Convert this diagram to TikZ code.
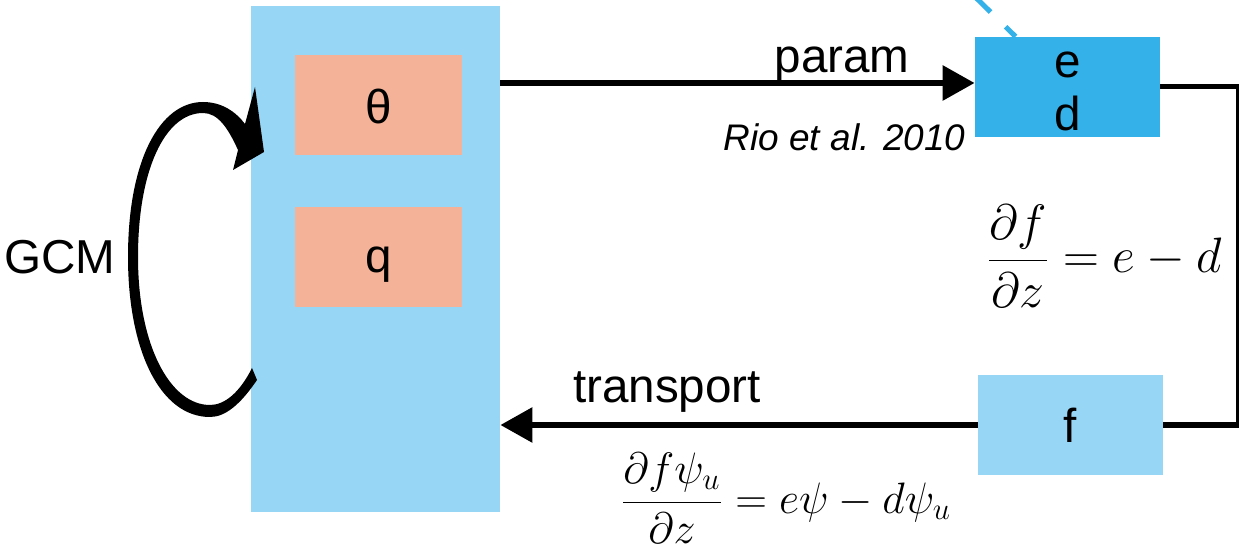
\RequirePackage{fix-cm}
\documentclass[tikz,border=0pt]{standalone}
\usepackage{fontspec}
\setmainfont{Liberation Sans}
\usetikzlibrary{arrows.meta}
\definecolor{gcmblue}{RGB}{152,214,245}
\definecolor{edblue}{RGB}{53,177,233}
\definecolor{varsalmon}{RGB}{244,178,152}
\newcommand{\lowtxt}[2]{\smash{\raisebox{#1}{\makebox[0pt]{#2}}}}
\begin{document}
\begin{tikzpicture}[x=0.5pt,y=-0.5pt,>={Triangle[length=16pt,width=17pt]},
  box/.style={inner sep=0pt,minimum width=92.5pt,minimum height=50pt,font=\fontsize{23.8}{26.5}\selectfont},
  varbox/.style={box,fill=varsalmon,minimum width=83.5pt},
  lbl/.style={inner sep=0pt,anchor=base,font=\fontsize{23.8}{26.5}\selectfont},
  eqn/.style={inner sep=0pt,anchor=base,font=\fontsize{24.88}{29}\selectfont}]
\useasboundingbox (0,0) rectangle (1240,549);
% model state
\node[box,fill=gcmblue,minimum width=124.5pt,minimum height=253pt] (gcm) at (375.5,259) {};
\node[varbox] (theta) at (378.5,105) {\lowtxt{-9.5pt}{θ}};
\node[varbox] (q) at (378.5,257) {\lowtxt{-8pt}{q}};
% scheme boxes
\node[box,fill=edblue] (ed) at (1067.5,87) {\lowtxt{4.5pt}{e}\lowtxt{-22pt}{d}};
\node[box,fill=gcmblue] (f) at (1070.5,425) {\lowtxt{-9pt}{f}};
\coordinate (dsrc) at (965,-13);
\draw[edblue,line width=2.5pt,dash pattern={on 7pt off 10.5pt on 30pt off 10pt}] ([xshift=20.5pt]ed.north west) -- (dsrc);
% arrows
\coordinate (pa) at ([yshift=2pt]ed.west);
\draw[->,line width=3pt] (gcm.east |- pa) -- (pa);
\draw[->,line width=3pt] (f.west) -- (f.west -| gcm.east);
\coordinate (rt) at (1237,87);
\coordinate (rb) at (1237,425);
\draw[line width=1.5pt] (rt) -- (rb);
\draw[line width=2.5pt] (ed.east) -- ([xshift=0.75pt]rt);
\draw[line width=2.5pt] (f.east) -- ([xshift=0.75pt]rb);
% GCM loop
\coordinate (lpA) at (257,380);
\coordinate (lpB) at (264,152);
\fill (lpA) .. controls (240,405) and (225,417) .. (210,417) .. controls (160,417) and (128,350) .. (128,257)
  .. controls (128,160) and (160,102) .. (203,102) .. controls (222,102) and (236,112) .. (245,124)
  -- (255,87) -- (lpB) -- (233,170) -- (238,150)
  .. controls (228,128) and (218,113) .. (203,113) .. controls (165,113) and (138,170) .. (138,257)
  .. controls (138,345) and (170,405) .. (210,405) .. controls (225,405) and (240,392) .. (252,368) -- cycle;
% labels
\node[lbl] (gcmlbl) at (60,274) {GCM};
\node[lbl] (paramlbl) at (842,73) {param};
\node[lbl,anchor=east,font=\fontsize{18.5}{22}\itshape] (rio) at (966,137) {Rio et al. 2010};
\node[lbl] (translbl) at (667,403) {transport};
\node[eqn] (eqfz) at (1104,273) {$\displaystyle\frac{\partial f}{\partial z}=e-d$};
\node[eqn,font=\fontsize{22}{26}\selectfont] (eqpsi) at (786,513) {$\displaystyle\frac{\partial f\psi_u}{\partial z}=e\psi-d\psi_u$};
\end{tikzpicture}
\end{document}
